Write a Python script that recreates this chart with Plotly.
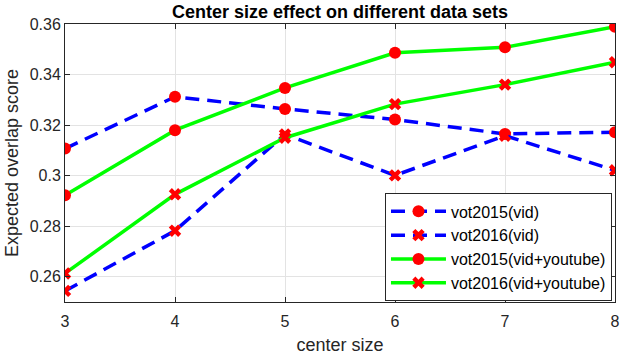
import plotly.graph_objects as go

center_size = [3, 4, 5, 6, 7, 8]
vot2015_vid = [0.3107, 0.3312, 0.3264, 0.3222, 0.3165, 0.3172]
vot2016_vid = [0.2544, 0.2782, 0.3163, 0.3001, 0.3158, 0.3021]
vot2015_yt = [0.2922, 0.3180, 0.3347, 0.3486, 0.3508, 0.3589]
vot2016_yt = [0.2613, 0.2926, 0.3150, 0.3283, 0.3360, 0.3449]

y_ticks = [0.26, 0.28, 0.30, 0.32, 0.34, 0.36]
y_tick_text = ["0.26", "0.28", "0.3", "0.32", "0.34", "0.36"]

font = "Liberation Sans, Arial, sans-serif"
fig = go.Figure()

def add(name, y, color, dash, symbol):
    fig.add_trace(go.Scatter(
        x=center_size, y=y, name=name, mode="lines+markers",
        line=dict(color=color, width=3.5, dash=dash),
        marker=dict(color="#ff0000", size=12 if symbol == "circle" else 11,
                    symbol=symbol, line=dict(width=0)),
    ))

add("vot2015(vid)", vot2015_vid, "#0000ff", "14px,8px", "circle")
add("vot2016(vid)", vot2016_vid, "#0000ff", "14px,8px", "x")
add("vot2015(vid+youtube)", vot2015_yt, "#00ff00", "solid", "circle")
add("vot2016(vid+youtube)", vot2016_yt, "#00ff00", "solid", "x")

axis_common = dict(
    showline=True, linecolor="#262626", linewidth=1, mirror="ticks",
    ticks="inside", ticklen=5, tickcolor="#262626",
    showgrid=True, gridcolor="#e3e3e3", gridwidth=1, zeroline=False,
    tickfont=dict(family=font, size=16, color="#262626"),
    automargin=False,
)

fig.update_layout(
    width=627, height=360,
    margin=dict(l=65, r=12, t=24, b=58),
    paper_bgcolor="white", plot_bgcolor="white",
    title=dict(text="<b>Center size effect on different data sets</b>",
               x=(65 + 615) / 2 / 627, xanchor="center", y=1 - 12 / 360, yanchor="middle",
               font=dict(family=font, size=18, color="black")),
    xaxis=dict(range=[3, 8], tickvals=center_size, ticklabelstandoff=5,
               title=dict(text="center size", font=dict(family=font, size=18, color="#262626"), standoff=9),
               **axis_common),
    yaxis=dict(range=[0.25, 0.36], tickvals=y_ticks, ticktext=y_tick_text,
               title=dict(text="Expected overlap score", font=dict(family=font, size=18, color="#262626"), standoff=6),
               **axis_common),
    legend=dict(x=0.9945, xanchor="right", y=0.002, yanchor="bottom",
                bgcolor="white", bordercolor="#262626", borderwidth=1,
                font=dict(family=font, size=16, color="black"),
                tracegroupgap=0, itemwidth=55),
    showlegend=True,
)

fig.write_html("out.html", config={"displayModeBar": False},
               post_script="document.body.style.margin='0';")
